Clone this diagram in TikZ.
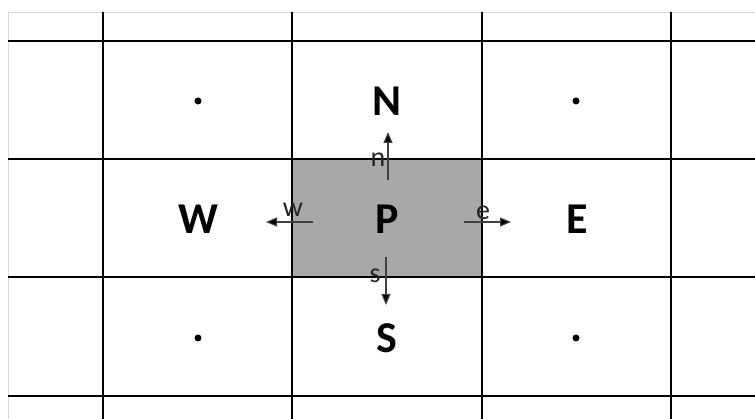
\documentclass[tikz,border=0pt]{standalone}
\usepackage{fontspec}
\setmainfont{Carlito}
\usetikzlibrary{arrows.meta}
\definecolor{cellgray}{RGB}{170,167,167}

\begin{document}
\begin{tikzpicture}[
  x=1pt, y=-1pt,
  big/.style={inner sep=0pt, font=\fontsize{44}{44}\selectfont\bfseries},
  small/.style={inner sep=0pt, text=black!85, font=\fontsize{28}{28}\selectfont},
  dot/.style={circle, fill=black, inner sep=0pt, minimum size=7pt},
  grid/.style={line width=1.3pt},
  arrow/.style={-{Triangle[length=11pt,width=9pt,fill=black]}, line width=1.1pt, draw=black!75}
]
\useasboundingbox (0,0) rectangle (755,419);
\fill[cellgray] (292,159) rectangle (482,277);
\draw[black!15, line width=0.8pt] (755,12) -| (8,419);
\foreach \x in {103,292,482,671} \draw[grid] (\x,12) -- (\x,419);
\foreach \y in {41,159,277,396} \draw[grid] (8,\y) -- (755,\y);

% neighbours
\node[big] (P) at (387,219) {P};
\node[big] (N) at (387,101) {N};
\node[big] (S) at (387,338) {S};
\node[big] (W) at (198,219) {W};
\node[big] (E) at (577,219) {E};

\node[dot] (nw) at (198,101) {};
\node[dot] (ne) at (576,101) {};
\node[dot] (sw) at (198,338) {};
\node[dot] (se) at (576,338) {};

% faces
\node[small] (n) at (378,160) {n};
\node[small] (w) at (293,210) {w};
\node[small] (e) at (483,213) {e};
\node[small] (s) at (375,276) {s};

\coordinate (n0) at (388,180);
\coordinate (n1) at (388,132);
\coordinate (w0) at (313,222);
\coordinate (w1) at (266,222);
\coordinate (e0) at (464,222);
\coordinate (e1) at (511,222);
\coordinate (s0) at (386,257);
\coordinate (s1) at (386,305);

\draw[arrow] (n0) -- (n1);
\draw[arrow] (w0) -- (w1);
\draw[arrow] (e0) -- (e1);
\draw[arrow] (s0) -- (s1);
\end{tikzpicture}
\end{document}
